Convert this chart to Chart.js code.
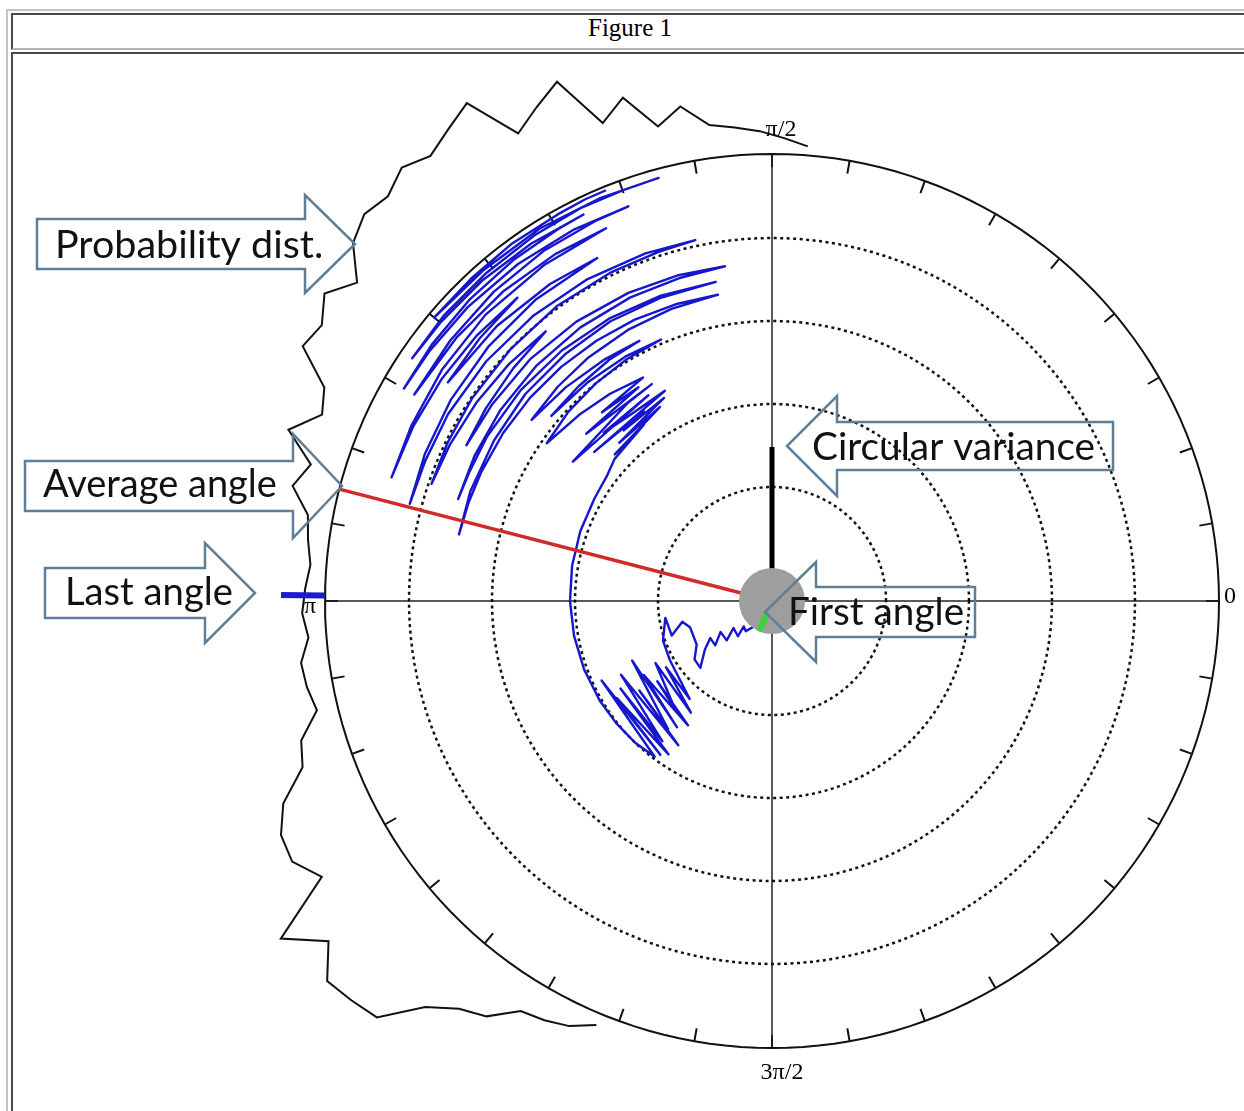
<!DOCTYPE html>
<html>
<head>
<meta charset="utf-8">
<title>Figure 1</title>
<script src="https://cdn.jsdelivr.net/npm/chart.js@4.4.0/dist/chart.umd.min.js"></script>
<style>
    html, body { margin: 0; padding: 0; background: #fff; overflow: hidden; }
    #frame { position: absolute; left: 6px; top: 9px; width: 1400px; height: 1300px;
             border-left: 2px solid #c4c4c4; border-top: 2px solid #c4c4c4; }
    #head  { position: absolute; left: 11px; top: 13px; width: 1400px; height: 33px;
             border-left: 2px solid #4a4a4a; border-top: 2px solid #4a4a4a; border-bottom: 2px solid #b4b4b4; }
    #cell  { position: absolute; left: 11px; top: 52px; width: 1400px; height: 1300px;
             border-left: 2px solid #4a4a4a; border-top: 2px solid #4a4a4a; }
    #title { position: absolute; left: 13px; top: 14px; width: 1234px; line-height: 33px;
             text-align: center; font: 25px "Liberation Serif", "Times New Roman", serif; color: #000; }
    #c { position: absolute; left: 13px; top: 54px; width: 1231px; height: 1057px; }
</style>
</head>
<body>
<div id="frame"></div>
<div id="head"></div>
<div id="cell"></div>
<div id="title">Figure 1</div>
<canvas id="c" width="1231" height="1057"></canvas>

<script>
// ---- polar grid ----
const ringRadii = [114, 197, 280, 363];
const outerRadius = 447;
const tickAngles = [0, 10, 20, 30, 40, 50, 60, 70, 80, 90, 100, 110, 120, 130, 140, 150, 160, 170,
                    180, 190, 200, 210, 220, 230, 240, 250, 260, 270, 280, 290, 300, 310, 320, 330, 340, 350];
const angleLabels = ["0", "π/2", "π", "3π/2"];

// ---- probability distribution (3 degree bins, height outside the rim) ----
const probAngles = [85.5, 88.5, 91.5, 94.5, 97.5, 100.5, 103.5, 106.5, 109.5, 112.5, 115.5, 118.5,
                    121.5, 124.5, 127.5, 130.5, 133.5, 136.5, 139.5, 142.5, 145.5, 148.5, 151.5, 154.5,
                    157.5, 160.5, 163.5, 166.5, 169.5, 172.5, 175.5, 178.5, 181.5, 184.5, 187.5, 190.5,
                    193.5, 196.5, 199.5, 202.5, 205.5, 208.5, 211.5, 214.5, 217.5, 220.5, 223.5, 226.5,
                    229.5, 232.5, 235.5, 238.5, 241.5, 244.5, 247.5];
const probHeight = [9, 16, 23, 28, 33, 56, 41, 78, 60, 115, 100, 85,
                    137, 125, 114, 123, 111, 115, 104, 76, 96, 81, 87, 49,
                    40, 66, 34, 46, 25, 21, 16, 20, 23, 18, 28, 26,
                    21, 44, 51, 82, 97, 99, 81, 149, 112, 138, 133, 127,
                    87, 67, 57, 34, 30, 24, 12];

// ---- angle trajectory (angle in degrees, radius = time) ----
const trajAngle = [
    // leaving the origin
    234, 229, 222, 226, 215, 221, 211, 218, 211, 216, 223, 217, 210, 198, 193, 199, 189, 200, 210,
    // lower noisy cluster
    230, 212, 234, 208, 228, 215, 236, 210, 233, 203, 231, 214, 237, 206, 232, 210, 236, 212, 234, 205, 233,
    // sweep along the second ring
    226, 218, 210, 200, 190, 180, 170, 160, 150, 143,
    // upper noisy cluster
    138, 126, 137, 120, 134, 118, 131, 124, 140, 117, 128, 135, 121, 145, 126, 119, 138, 122, 132,
    // outer sweeps
    120, 128, 136, 145, 137, 129, 121, 113, 121, 130, 140, 132, 124, 117, 125, 134, 143,
    135, 127, 118, 109, 100, 108, 116, 124, 132, 140, 148, 156, 162, 168,
    160, 150, 140, 130, 120, 110, 100, 110, 120, 130, 140, 150, 157, 162,
    154, 145, 135, 125, 115, 106, 98, 106, 115, 125, 135, 145, 153, 146, 138, 130,
    138, 146, 154, 161, 154, 146, 136, 126, 116, 108, 102, 110, 120, 130, 140, 150, 158, 165,
    157, 148, 138, 128, 117, 125, 135, 146, 138, 130, 138, 146, 154, 162,
    154, 145, 135, 124, 114,
    122, 131, 140, 150, 141, 132, 123, 115, 110, 118, 127, 136, 144, 150,
    143, 135, 127, 120, 116, 124, 132, 140, 146, 139, 131, 123, 116, 110, 105,
    113, 122, 131, 140, 133, 126, 119, 115, 112
];
const trajRadius = [
    32, 40, 38, 49, 47, 60, 60, 72, 72, 83, 98, 97, 87, 86, 92, 106, 108, 116, 118,
    128, 125, 138, 132, 145, 140, 150, 148, 158, 152, 165, 160, 172, 168, 178, 175, 185, 183, 190, 188, 195,
    197, 198, 199, 200, 201, 202, 203, 204, 205, 207,
    212, 218, 215, 224, 220, 230, 226, 229, 232, 236, 234, 238, 240, 243, 245, 248, 250, 252, 254,
    258, 263, 268, 275, 278, 280, 282, 284, 285, 286, 288, 289, 291, 292, 294, 297, 301,
    303, 305, 307, 309, 311, 312, 313, 314, 315, 316, 317, 318, 319, 320,
    321, 321, 322, 322, 323, 323, 324, 325, 326, 327, 328, 329, 329, 330,
    331, 332, 333, 334, 335, 336, 338, 339, 340, 341, 342, 342, 343, 345, 348, 352,
    354, 356, 358, 360, 361, 362, 363, 365, 366, 367, 369, 370, 371, 372, 373, 374, 374, 375,
    377, 379, 381, 383, 385, 387, 389, 391, 393, 396, 397, 398, 399, 400,
    401, 403, 405, 406, 408,
    409, 410, 411, 413, 414, 416, 418, 419, 420, 421, 422, 423, 424, 425,
    426, 427, 428, 429, 430, 431, 432, 433, 434, 435, 435, 436, 437, 437, 438,
    438, 439, 439, 441, 441, 442, 442, 443, 443
];

// ---- summary statistics ----
const meanAngle = 165.5;
const circVariance = 154;
const firstAngle = 247;
const lastAngle = 179.3;

// page position of the polar centre inside the canvas (px, 1 unit = 1 px)
const CX = 759, CY = 547, CW = 1231, CH = 1057;

function toXY(angleDeg, r) {
    const a = angleDeg * Math.PI / 180;
    return { x: r * Math.cos(a), y: r * Math.sin(a) };
}

function circle(r) {
    const pts = [];
    for (let a = 0; a <= 360; a += 2) pts.push(toXY(a, r));
    return pts;
}

function lineSet(points, color, width, order, extra) {
    return Object.assign({
        data: points,
        showLine: true,
        pointRadius: 0,
        borderColor: color,
        borderWidth: width,
        fill: false,
        tension: 0,
        order: order,
    }, extra || {});
}

const datasets = [];

/* ============ grid ============ */
ringRadii.forEach(function (r) {
    datasets.push(lineSet(circle(r), "#111", 2.5, 6, { borderDash: [3, 3.5] }));
});
datasets.push(lineSet(circle(outerRadius), "#111", 2, 6));
datasets.push(lineSet([toXY(180, outerRadius), toXY(0, outerRadius)], "#222", 1.5, 6));
datasets.push(lineSet([toXY(270, outerRadius), toXY(90, outerRadius)], "#222", 1.5, 6));
tickAngles.forEach(function (a) {
    datasets.push(lineSet([toXY(a, outerRadius - 13), toXY(a, outerRadius)], "#111", 2, 6));
});

/* ============ probability distribution ============ */
datasets.push(lineSet(probAngles.map(function (a, i) {
    return toXY(a, outerRadius + probHeight[i]);
}), "#111", 2, 5, { borderJoinStyle: "miter" }));

/* ============ trajectory ============ */
datasets.push(lineSet(trajAngle.map(function (a, i) {
    return toXY(a, trajRadius[i]);
}), "#1616cc", 2.4, 4, { borderJoinStyle: "round" }));

/* ============ statistics ============ */
datasets.push(lineSet([toXY(meanAngle, 0), toXY(meanAngle, outerRadius)], "#d02a2a", 3.5, 3));
datasets.push(lineSet([toXY(90, 0), toXY(90, circVariance)], "#000", 5, 3));
datasets.push(lineSet([toXY(lastAngle, outerRadius + 1), toXY(lastAngle, outerRadius + 44)], "#1a1ad0", 6, 3));
datasets.push({
    data: [{ x: 0, y: 0 }],
    pointRadius: 33,
    pointBackgroundColor: "#9e9e9e",
    pointBorderWidth: 0,
    showLine: false,
    order: 2,
});
datasets.push(lineSet([toXY(firstAngle, 14), toXY(firstAngle, 33)], "#3ed23e", 6, 1));

/* ============ labels and callout arrows ============ */
const labelSpots = [[458, 4], [9, 471], [-462, -6], [10, -472]];
const callouts = [
    { text: "Probability dist.", tail: -735, base: -467, tip: -417, cy: 357, head: 49, body: 25, tx: -717, ty: 343, tw: 268 },
    { text: "Average angle", tail: -747, base: -479, tip: -430, cy: 115, head: 52, body: 25, tx: -729, ty: 104, tw: 234 },
    { text: "Last angle", tail: -727, base: -567, tip: -517, cy: 8, head: 50, body: 25, tx: -707, ty: -4, tw: 168 },
    { text: "Circular variance", tail: 341, base: 65, tip: 15, cy: 155, head: 50, body: 24, tx: 40, ty: 141, tw: 283 },
    { text: "First angle", tail: 203, base: 44, tip: -7, cy: -11, head: 50, body: 25, tx: 16, ty: -24, tw: 176 },
];

const calloutPlugin = {
    id: "callouts",
    afterDatasetsDraw: function (chart) {
        const c = chart.ctx;
        const X = function (v) { return chart.scales.x.getPixelForValue(v); };
        const Y = function (v) { return chart.scales.y.getPixelForValue(v); };
        c.save();

        c.fillStyle = "#000";
        c.font = '24px "Liberation Serif", "Times New Roman", serif';
        c.textAlign = "center";
        c.textBaseline = "middle";
        angleLabels.forEach(function (t, i) {
            c.fillText(t, X(labelSpots[i][0]), Y(labelSpots[i][1]));
        });

        callouts.forEach(function (a) {
            const pts = [
                [a.tail, a.cy + a.body], [a.base, a.cy + a.body], [a.base, a.cy + a.head],
                [a.tip, a.cy], [a.base, a.cy - a.head], [a.base, a.cy - a.body], [a.tail, a.cy - a.body],
            ];
            c.beginPath();
            pts.forEach(function (p, i) {
                if (i === 0) c.moveTo(X(p[0]), Y(p[1]));
                else c.lineTo(X(p[0]), Y(p[1]));
            });
            c.closePath();
            c.strokeStyle = "#5f7f98";
            c.lineWidth = 2.5;
            c.lineJoin = "miter";
            c.stroke();

            c.font = '100px Lato, "Open Sans", sans-serif';
            const size = 100 * a.tw / c.measureText(a.text).width;
            c.font = size.toFixed(1) + 'px Lato, "Open Sans", sans-serif';
            c.textAlign = "left";
            c.textBaseline = "alphabetic";
            c.fillStyle = "#111";
            c.fillText(a.text, X(a.tx), Y(a.ty));
        });
        c.restore();
    },
};

new Chart(document.getElementById("c").getContext("2d"), {
    type: "scatter",
    data: { datasets: datasets },
    options: {
        responsive: false,
        animation: false,
        events: [],
        layout: { padding: 0, autoPadding: false },
        plugins: {
            legend: { display: false },
            tooltip: { enabled: false },
        },
        scales: {
            x: { type: "linear", display: false, min: -CX, max: CW - CX },
            y: { type: "linear", display: false, min: CY - CH, max: CY },
        },
    },
    plugins: [calloutPlugin],
});
</script>
</body>
</html>
